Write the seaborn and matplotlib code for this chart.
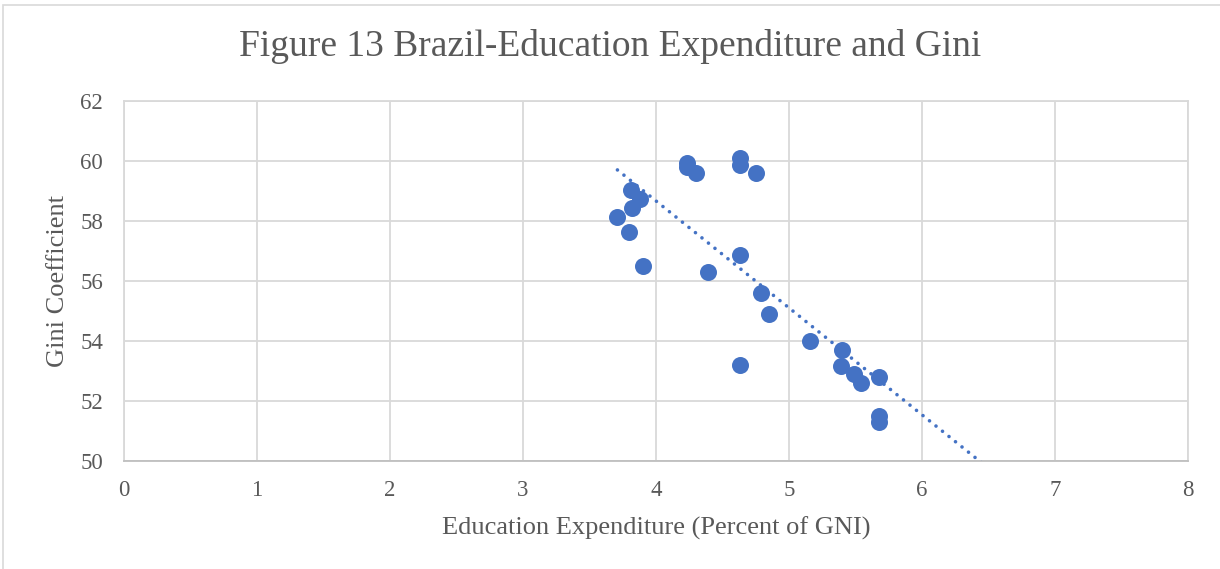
import numpy as np
import pandas as pd
import matplotlib
matplotlib.use("Agg")
import matplotlib.pyplot as plt
import seaborn as sns
from matplotlib.patches import Rectangle

edu_exp = [3.71, 3.81, 3.82, 3.88, 3.80, 3.90, 4.23, 4.23, 4.30, 4.39,
           4.63, 4.63, 4.75, 4.63, 4.79, 4.85, 4.63, 5.16, 5.40, 5.39,
           5.49, 5.54, 5.68, 5.68, 5.68]
gini = [58.13, 59.03, 58.43, 58.73, 57.63, 56.50, 59.93, 59.80, 59.60, 56.30,
        60.10, 59.85, 59.60, 56.85, 55.60, 54.90, 53.20, 54.00, 53.70, 53.15,
        52.90, 52.60, 52.80, 51.50, 51.30]
x_ticks = [0, 1, 2, 3, 4, 5, 6, 7, 8]
y_ticks = [50, 52, 54, 56, 58, 60, 62]

df = pd.DataFrame({"edu": edu_exp, "gini": gini})

sns.set_theme(style="white")
plt.rcParams["font.family"] = ["Liberation Serif", "DejaVu Serif"]

grey_text = "#595959"
grid_col = "#D9D9D9"
blue = "#4472C4"

fig = plt.figure(figsize=(12.2, 5.69), dpi=100)
ax = fig.add_axes([124/1220, 1 - 461/569, (1188-124)/1220, (461-101)/569])

# chart-area border (right and bottom are cropped in the reference)
fig.patches.append(Rectangle((3/1220, -0.1), 1.2, 1 - 5/569 + 0.1, transform=fig.transFigure,
                             fill=False, edgecolor=grid_col, linewidth=1.2, zorder=0))

sns.scatterplot(data=df, x="edu", y="gini", ax=ax, s=150, color=blue,
                edgecolor=blue, linewidth=0, zorder=3, legend=False)

# linear trendline
coef = np.polyfit(df["edu"], df["gini"], 1)
xs = np.linspace(df["edu"].min(), 8, 200)
ax.plot(xs, np.polyval(coef, xs), linestyle=(0, (0.01, 2.3)), color=blue,
        linewidth=2.6, dash_capstyle="round", zorder=4, clip_on=True)

ax.set_xlim(0, 8)
ax.set_ylim(50, 62)
ax.set_xticks(x_ticks)
ax.set_yticks(y_ticks)
ax.grid(True, color=grid_col, linewidth=1.3)
ax.set_axisbelow(True)
for sp in ax.spines.values():
    sp.set_visible(True)
    sp.set_color(grid_col)
    sp.set_linewidth(1.3)
ax.spines["bottom"].set_color("#BFBFBF")
ax.tick_params(axis="y", length=0, labelsize=16.5, colors=grey_text, pad=15)
ax.tick_params(axis="x", length=0, labelsize=16.5, colors=grey_text, pad=14)

ax.set_xlabel("Education Expenditure (Percent of GNI)", fontsize=19, color=grey_text, labelpad=11)
ax.set_ylabel("Gini Coefficient", fontsize=19, color=grey_text, labelpad=8)
fig.suptitle("Figure 13 Brazil-Education Expenditure and Gini", fontsize=27,
             color=grey_text, y=1 - 47/569, va="center")

fig.savefig("out.png", dpi=100)
